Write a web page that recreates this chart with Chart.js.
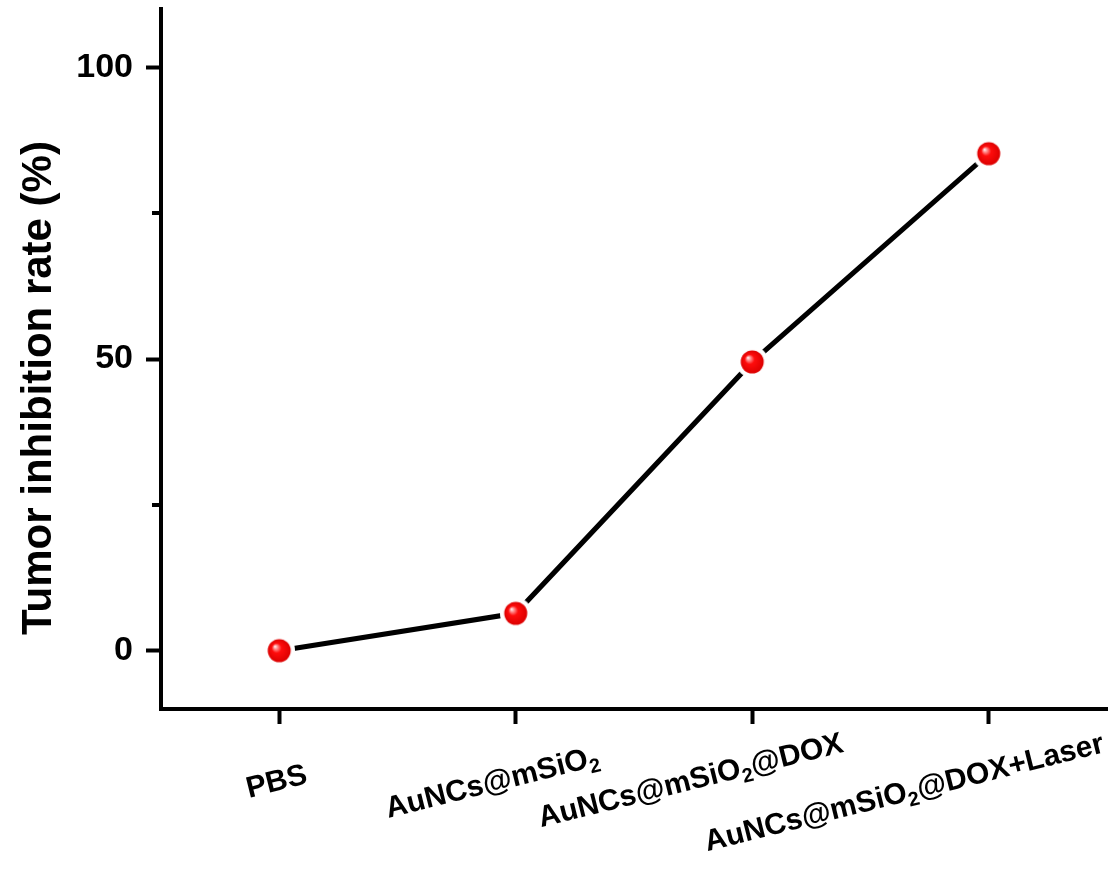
<!DOCTYPE html>
<html>
<head>
<meta charset="utf-8">
<script src="https://cdn.jsdelivr.net/npm/chart.js@4.4.1/dist/chart.umd.min.js"></script>
<style>
  html, body { margin: 0; padding: 0; background: #fff; }
</style>
</head>
<body>
<canvas id="chart" width="1113" height="870"></canvas>
<script>
// ─── Data ─────────────────────────────────────────────────────
// "_2" marks a subscript digit in the group names
const groups     = ['PBS', 'AuNCs@mSiO_2', 'AuNCs@mSiO_2@DOX', 'AuNCs@mSiO_2@DOX+Laser'];
const inhibition = [0, 6.4, 49.5, 85.2];
const yTicks     = [0, 25, 50, 75, 100];
const yLabelled  = [0, 50, 100];
const yTitle     = 'Tumor inhibition rate (%)';

const FONT = "'Liberation Sans', Arial, sans-serif";

// hand placement of the slanted group labels (centre offset from tick, drop below axis)
const labelDx = [-3, -24, -62, -85];
const labelDy = [71, 72, 70, 82];

// ── Red ball marker, with a white halo so the line stops short ──

function makeBall(r, halo) {
  const size = Math.ceil((r + halo) * 2);
  const c = document.createElement('canvas');
  c.width = c.height = size;
  const g = c.getContext('2d');
  const m = size / 2;
  g.fillStyle = '#fff';
  g.beginPath(); g.arc(m, m, r + halo, 0, Math.PI * 2); g.fill();
  const grad = g.createRadialGradient(m - r * 0.38, m - r * 0.38, 0, m, m, r);
  grad.addColorStop(0,    '#ffffff');
  grad.addColorStop(0.16, '#ff9a9a');
  grad.addColorStop(0.42, '#ff0d0d');
  grad.addColorStop(1,    '#dc0000');
  g.fillStyle = grad;
  g.beginPath(); g.arc(m, m, r, 0, Math.PI * 2); g.fill();
  return c;
}

const ball = makeBall(11.5, 4.5);

// ── Text with subscripts ──────────────────────────────────────

function drawRich(ctx, text, fs) {
  const parts = text.split(/_(\d)/);
  const big = `bold ${fs}px ${FONT}`;
  const sub = `bold ${Math.round(fs * 0.66)}px ${FONT}`;
  let total = 0;
  parts.forEach((p, i) => { ctx.font = i % 2 ? sub : big; total += ctx.measureText(p).width; });
  let x = -total / 2;
  const base = fs * 0.36;
  parts.forEach((p, i) => {
    ctx.font = i % 2 ? sub : big;
    ctx.fillText(p, x, i % 2 ? base + fs * 0.2 : base);
    x += ctx.measureText(p).width;
  });
}

const decorPlugin = {
  id: 'decor',
  afterDraw(chart) {
    const { ctx, chartArea, scales } = chart;
    ctx.save();
    ctx.fillStyle = '#000';
    ctx.textAlign = 'left';
    ctx.textBaseline = 'alphabetic';

    // slanted category labels
    groups.forEach((g, i) => {
      const tx = scales.x.getPixelForTick(i);
      ctx.save();
      ctx.translate(tx + labelDx[i], chartArea.bottom + labelDy[i]);
      ctx.rotate(-14 * Math.PI / 180);
      drawRich(ctx, g, 30);
      ctx.restore();
    });

    // minor ticks on y
    ctx.strokeStyle = '#000';
    ctx.lineWidth = 4;
    yTicks.filter(v => !yLabelled.includes(v)).forEach(v => {
      const y = Math.round(scales.y.getPixelForValue(v));
      ctx.beginPath();
      ctx.moveTo(chartArea.left - 9, y);
      ctx.lineTo(chartArea.left - 2, y);
      ctx.stroke();
    });

    // y title
    ctx.save();
    ctx.translate(51, 388);
    ctx.rotate(-Math.PI / 2);
    ctx.textAlign = 'center';
    ctx.font = `bold 42px ${FONT}`;
    ctx.fillText(yTitle, 0, 0);
    ctx.restore();

    ctx.restore();
  }
};

function noPad(s) {
  s.paddingTop = 0; s.paddingBottom = 0; s.paddingLeft = 0; s.paddingRight = 0;
}

// ── Chart ─────────────────────────────────────────────────────

new Chart(document.getElementById('chart'), {
  type: 'line',
  data: {
    labels: groups,
    datasets: [{
      data:             inhibition,
      borderColor:      '#000',
      borderWidth:      5,
      tension:          0,
      pointStyle:       ball,
      pointRadius:      12,
      pointHoverRadius: 12,
      clip:             false,
    }],
  },
  options: {
    responsive: false,
    animation:  false,
    layout: { autoPadding: false, padding: { top: 9, right: 6 } },
    plugins: { legend: { display: false }, tooltip: { enabled: false } },
    scales: {
      x: {
        type:   'category',
        offset: true,
        afterFit: s => { s.height = 161; noPad(s); },
        ticks:  { display: false },
        grid:   { drawOnChartArea: false, offset: false, tickLength: 15, tickWidth: 4, tickColor: '#000' },
        border: { color: '#000', width: 4 },
      },
      y: {
        min: -10,
        max: 110,
        afterBuildTicks: s => { s.ticks = yTicks.map(v => ({ value: v })); },
        afterFit: s => { s.width = 161; noPad(s); },
        ticks: {
          padding:  13,
          color:    '#000',
          font:     { family: FONT, size: 34, weight: 'bold' },
          callback: v => yLabelled.includes(v) ? v : '',
        },
        grid: {
          drawOnChartArea: false,
          tickLength: 15,
          tickWidth:  4,
          tickColor:  c => (c.tick && yLabelled.includes(c.tick.value)) ? '#000' : 'rgba(0,0,0,0)',
        },
        border: { color: '#000', width: 4 },
      },
    },
  },
  plugins: [decorPlugin],
});
</script>
</body>
</html>
